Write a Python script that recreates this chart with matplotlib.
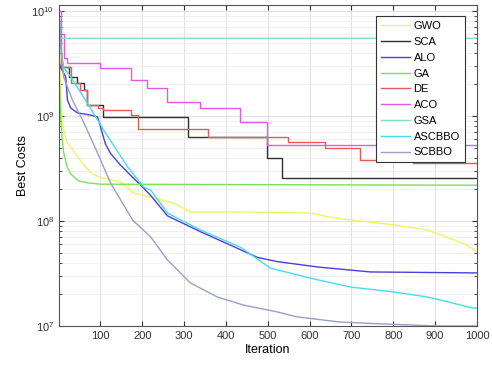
import numpy as np
import matplotlib
matplotlib.use("Agg")
import matplotlib.pyplot as plt

plt.rcParams['font.family'] = ['Liberation Sans', 'DejaVu Sans']

# convergence curves (iteration, best cost)
gwo_it = [1, 3, 6, 10, 20, 40, 60, 80, 100, 148, 179, 227, 274, 315, 434, 601, 658, 740, 800, 881, 929, 976, 1000]
gwo_val = [1e10, 3.16e9, 1.2e9, 8e8, 5.6e8, 4.4e8, 3.4e8, 2.8e8, 2.6e8, 2.35e8, 1.85e8, 1.66e8, 1.48e8, 1.22e8,
           1.22e8, 1.19e8, 1.07e8, 9.8e7, 9.2e7, 8.2e7, 7.0e7, 5.9e7, 5.1e7]

sca_it = [1, 25, 45, 60, 69, 107, 310, 499, 535, 1000]
sca_val = [2.9e9, 2.35e9, 2.06e9, 1.77e9, 1.27e9, 9.8e8, 6.3e8, 4.0e8, 2.57e8, 2.57e8]

alo_it = [1, 5, 17, 21, 29, 45, 76, 93, 100, 112, 124, 148, 179, 196, 220, 260, 339, 410, 475, 523, 618, 745, 1000]
alo_val = [3.2e9, 2.9e9, 2.35e9, 1.42e9, 1.19e9, 1.07e9, 1.02e9, 9.8e8, 7.9e8, 5.4e8, 4.4e8, 3.4e8, 2.55e8,
           2.2e8, 1.75e8, 1.12e8, 7.9e7, 5.9e7, 4.5e7, 4.1e7, 3.65e7, 3.27e7, 3.2e7]

ga_it = [1, 3, 5, 8, 12, 20, 29, 48, 72, 100, 1000]
ga_val = [2.95e9, 1.58e9, 9.5e8, 6.3e8, 4.5e8, 3.3e8, 2.8e8, 2.4e8, 2.3e8, 2.24e8, 2.19e8]

de_it = [1, 5, 30, 52, 69, 93, 107, 172, 189, 356, 549, 637, 721, 847, 1000]
de_val = [6e9, 2.9e9, 2.06e9, 1.77e9, 1.27e9, 1.19e9, 1.14e9, 1.02e9, 7.5e8, 6.3e8, 5.65e8, 4.95e8, 3.81e8,
          3.57e8, 3.57e8]

aco_it = [1, 5, 12, 21, 100, 172, 212, 260, 339, 434, 499, 1000]
aco_val = [1.0e10, 6e9, 3.6e9, 3.2e9, 2.87e9, 2.2e9, 1.85e9, 1.36e9, 1.19e9, 8.8e8, 5.3e8, 5.3e8]

gsa_it = [1, 3, 1000]
gsa_val = [1.1e10, 5.5e9, 5.5e9]

asc_it = [1, 5, 12, 29, 64, 112, 165, 203, 220, 260, 339, 434, 506, 601, 697, 800, 881, 912, 990, 1000]
asc_val = [1e10, 4.5e9, 2.9e9, 2.35e9, 1.42e9, 6.9e8, 3.27e8, 2.11e8, 1.97e8, 1.19e8, 8.2e7, 5.65e7, 3.56e7,
           2.86e7, 2.35e7, 2.11e7, 1.89e7, 1.77e7, 1.48e7, 1.48e7]

scb_it = [1, 5, 12, 33, 57, 93, 124, 177, 220, 260, 315, 379, 442, 523, 570, 673, 776, 905, 1000]
scb_val = [1e10, 5e9, 2.35e9, 1.42e9, 9.2e8, 4.45e8, 2.3e8, 1.02e8, 7.05e7, 4.26e7, 2.57e7, 1.89e7, 1.58e7,
           1.36e7, 1.22e7, 1.09e7, 1.045e7, 1.0e7, 1.0e7]

fig = plt.figure(figsize=(4.92, 3.70), dpi=100)
ax = fig.add_axes([0.12, 0.119, 0.8495, 0.8675])

lw = 1.0
ax.plot(gwo_it, gwo_val, color='#f2f266', lw=lw, label='GWO')
ax.plot(sca_it, sca_val, color='#303030', lw=lw, drawstyle='steps-post', label='SCA')
ax.plot(alo_it, alo_val, color='#4a3fd8', lw=lw, label='ALO')
ax.plot(ga_it, ga_val, color='#7ee05a', lw=lw, label='GA')
ax.plot(de_it, de_val, color='#e85a5a', lw=lw, drawstyle='steps-post', label='DE')
ax.plot(aco_it, aco_val, color='#e05ae8', lw=lw, drawstyle='steps-post', label='ACO')
ax.plot(gsa_it, gsa_val, color='#7fe0c4', lw=lw, label='GSA')
ax.plot(asc_it, asc_val, color='#45dcf0', lw=lw, label='ASCBBO')
ax.plot(scb_it, scb_val, color='#9a9ec8', lw=lw, label='SCBBO')

ax.set_yscale('log')
ax.set_xlim(1, 1000)
ax.set_ylim(1e7, 1.14e10)
ax.set_xticks(range(100, 1001, 100))
ax.grid(True, which='major', color='#dcdcdc', lw=0.6)
ax.grid(True, which='minor', axis='y', color='#ececec', lw=0.5)
ax.tick_params(which='both', direction='in', top=True, right=True, labelsize=8, colors='#333333')
for s in ax.spines.values():
    s.set_color('#555555')
    s.set_linewidth(0.8)

ax.set_xlabel('Iteration', fontsize=9, labelpad=2)
ax.set_ylabel('Best Costs', fontsize=9, labelpad=2)

leg = ax.legend(loc='upper right', bbox_to_anchor=(0.971, 0.965), borderaxespad=0, fontsize=8,
                fancybox=False, framealpha=1, edgecolor='#333333', handlelength=2.6,
                labelspacing=0.52, borderpad=0.45, handletextpad=0.3)
leg.get_frame().set_linewidth(0.8)

fig.savefig('out.png', dpi=100)
